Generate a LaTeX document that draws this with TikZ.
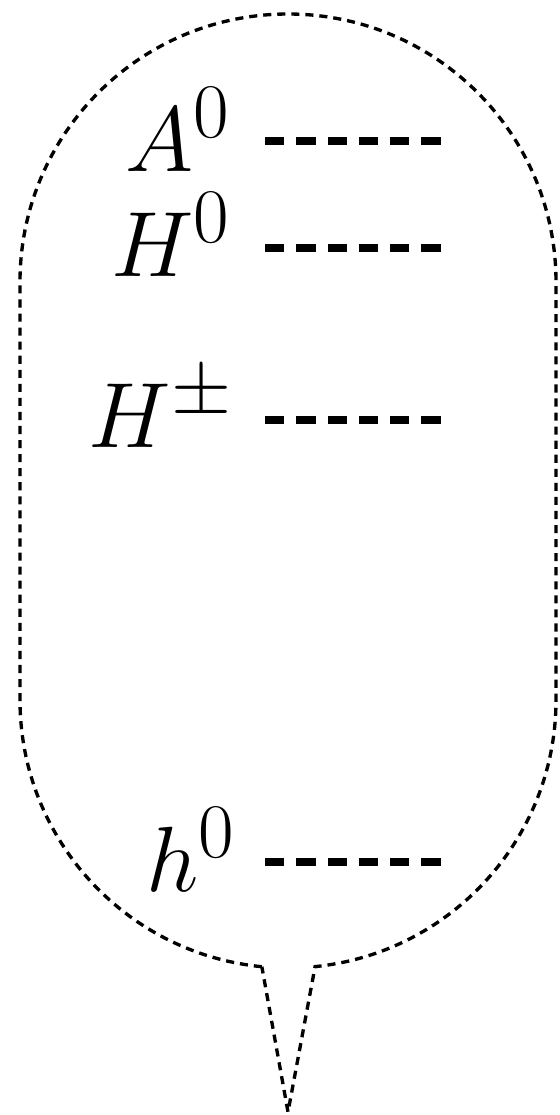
\documentclass[tikz,border=0pt]{standalone}

\tikzset{
  bubble/.style={line width=1.9pt,dash pattern=on 4.6pt off 3.4pt},
  level/.style={line width=5.1pt,dash pattern=on 11pt off 6.8pt},
  lab/.style={anchor=base east,inner sep=0pt,font=\Huge,scale=2.12}
}

\begin{document}
\begin{tikzpicture}[line join=miter]
  \useasboundingbox (0,0) rectangle (11.2,-22.3);
  \coordinate (T) at (5.76,-5.64);
  \coordinate (B) at (5.76,-14.00);
  \coordinate (tip) at (5.76,-22.24);
  % the bubble
  \draw[bubble] (B) ++(264.4:5.36) arc (264.4:180:5.36) -- ++(0,8.36)
    arc (180:0:5.36) -- ++(0,-8.36) arc (0:-84.2:5.36) -- (tip) -- cycle;
  % levels
  \coordinate (A0) at (5.30,-2.82);
  \coordinate (H0) at (5.30,-4.96);
  \coordinate (Hpm) at (5.30,-8.40);
  \coordinate (h0) at (5.30,-17.24);
  \draw[level] (A0) -- ++(3.52,0);
  \draw[level] (H0) -- ++(3.52,0);
  \draw[level] (Hpm) -- ++(3.52,0);
  \draw[level] (h0) -- ++(3.52,0);
  \node[lab] (lA0) at (4.64,-3.42) {$A^0$};
  \node[lab] (lH0) at (4.64,-5.52) {$H^0$};
  \node[lab] (lHpm) at (4.68,-8.94) {$H^\pm$};
  \node[lab] (lh0) at (4.74,-17.82) {$h^0$};
\end{tikzpicture}
\end{document}
